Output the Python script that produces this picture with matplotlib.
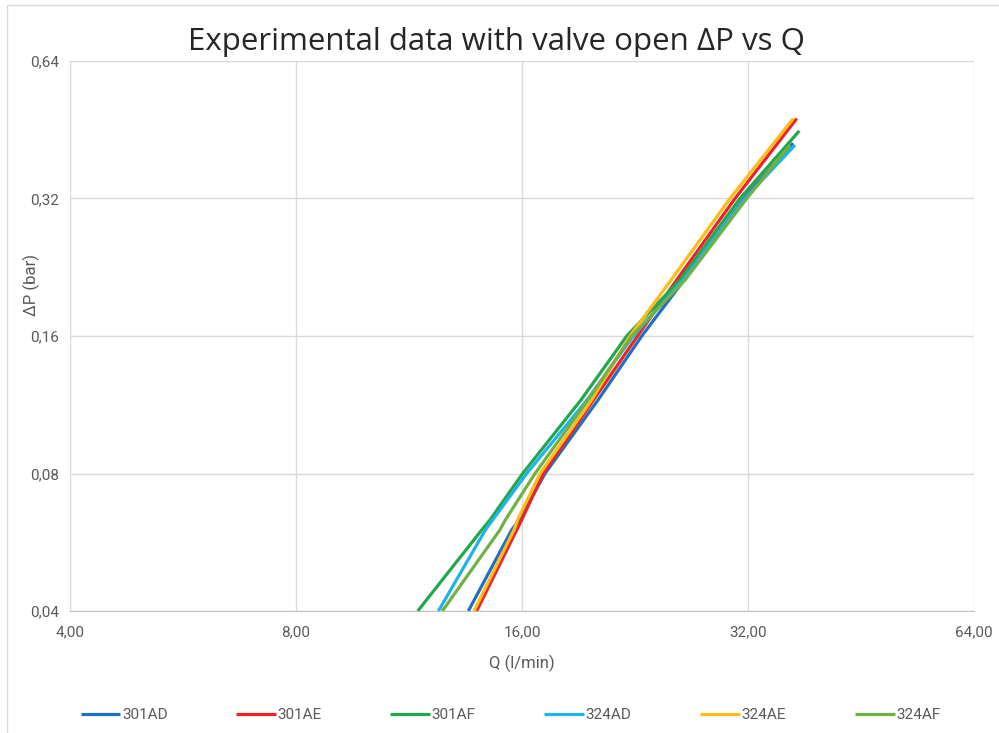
import matplotlib
matplotlib.use("Agg")
import matplotlib.pyplot as plt
from matplotlib.patches import Rectangle
from matplotlib.ticker import FixedLocator, FuncFormatter, NullLocator

# values (Q in l/min, dP in bar)
q_301AD = [13.57, 15.50, 15.86, 17.17, 20.20, 23.10, 26.30, 31.61, 36.74]
dp_301AD = [0.040, 0.0602, 0.0633, 0.080, 0.1159, 0.160, 0.2122, 0.320, 0.423]

q_301AE = [13.92, 15.74, 15.98, 17.08, 19.92, 22.80, 25.71, 30.75, 37.16]
dp_301AE = [0.040, 0.0602, 0.0633, 0.080, 0.1159, 0.160, 0.2122, 0.320, 0.479]

q_301AF = [11.62, 14.14, 14.50, 16.03, 19.17, 22.06, 25.97, 31.22, 37.45]
dp_301AF = [0.040, 0.0602, 0.0633, 0.080, 0.1159, 0.160, 0.2122, 0.320, 0.450]

q_324AD = [12.38, 14.30, 14.62, 16.23, 19.53, 22.51, 26.21, 31.71, 36.96]
dp_324AD = [0.040, 0.0602, 0.0633, 0.080, 0.1159, 0.160, 0.2122, 0.320, 0.419]

q_324AE = [13.81, 15.61, 15.78, 16.91, 19.81, 22.28, 25.27, 30.28, 36.77]
dp_324AE = [0.040, 0.0602, 0.0633, 0.080, 0.1159, 0.160, 0.2122, 0.320, 0.479]

q_324AF = [12.53, 14.95, 15.20, 16.65, 19.59, 22.40, 26.38, 31.87, 36.40]
dp_324AF = [0.040, 0.0602, 0.0633, 0.080, 0.1159, 0.160, 0.2122, 0.320, 0.419]

series_names = ["301AD", "301AE", "301AF", "324AD", "324AE", "324AF"]
x_ticks = [4, 8, 16, 32, 64]
y_ticks = [0.04, 0.08, 0.16, 0.32, 0.64]

colors = ["#1F6FC4", "#EE2226", "#22A74C", "#1EB4EA", "#FDBD16", "#70B143"]
all_q = [q_301AD, q_301AE, q_301AF, q_324AD, q_324AE, q_324AF]
all_dp = [dp_301AD, dp_301AE, dp_301AF, dp_324AD, dp_324AE, dp_324AF]

plt.rcParams["font.family"] = ["Roboto", "DejaVu Sans"]

fig = plt.figure(figsize=(9.99, 7.33), dpi=100)
ax = fig.add_axes([0.0701, 0.1664, 0.9049, 0.7504])

for q, dp, name, c in zip(all_q, all_dp, series_names, colors):
    ax.plot(q, dp, color=c, lw=2.3, label=name, solid_capstyle="butt",
            solid_joinstyle="round")

ax.set_xscale("log", base=2)
ax.set_yscale("log", base=2)
ax.set_xlim(4, 64)
ax.set_ylim(0.04, 0.64)
ax.xaxis.set_major_locator(FixedLocator(x_ticks))
ax.yaxis.set_major_locator(FixedLocator(y_ticks))
ax.xaxis.set_minor_locator(NullLocator())
ax.yaxis.set_minor_locator(NullLocator())
ax.xaxis.set_major_formatter(FuncFormatter(lambda v, p: f"{v:.2f}".replace(".", ",")))
ax.yaxis.set_major_formatter(FuncFormatter(lambda v, p: f"{v:.2f}".replace(".", ",")))
ax.tick_params(length=0, labelsize=11, labelcolor="#595959", pad=10)
ax.tick_params(axis="y", pad=8)

ax.grid(True, color="#D9D9D9", lw=1)
ax.set_axisbelow(True)
for s in ["top", "right", "left"]:
    ax.spines[s].set_visible(False)
ax.spines["bottom"].set_color("#BFBFBF")

fig.text(0.4965, 0.943, "Experimental data with valve open \u0394P vs Q",
         ha="center", va="center", fontsize=22.5, color="#262626",
         family=["Open Sans", "DejaVu Sans"])
fig.text(0.5225, 0.095, "Q (l/min)", ha="center", va="center",
         fontsize=12, color="#595959")
fig.text(0.031, 0.611, "\u0394P (bar)", ha="center", va="center",
         rotation=90, fontsize=12, color="#595959")

fig.legend(loc="center", bbox_to_anchor=(0.511, 0.024), ncol=6,
           frameon=False, fontsize=11, handlelength=2.6, handletextpad=0.1,
           columnspacing=4.5, labelcolor="#595959")

fig.add_artist(Rectangle((0.007, -0.01), 1.0, 0.993 + 0.01,
                         transform=fig.transFigure, fill=False,
                         edgecolor="#D9D9D9", lw=1))

fig.savefig("out.png", dpi=100)
